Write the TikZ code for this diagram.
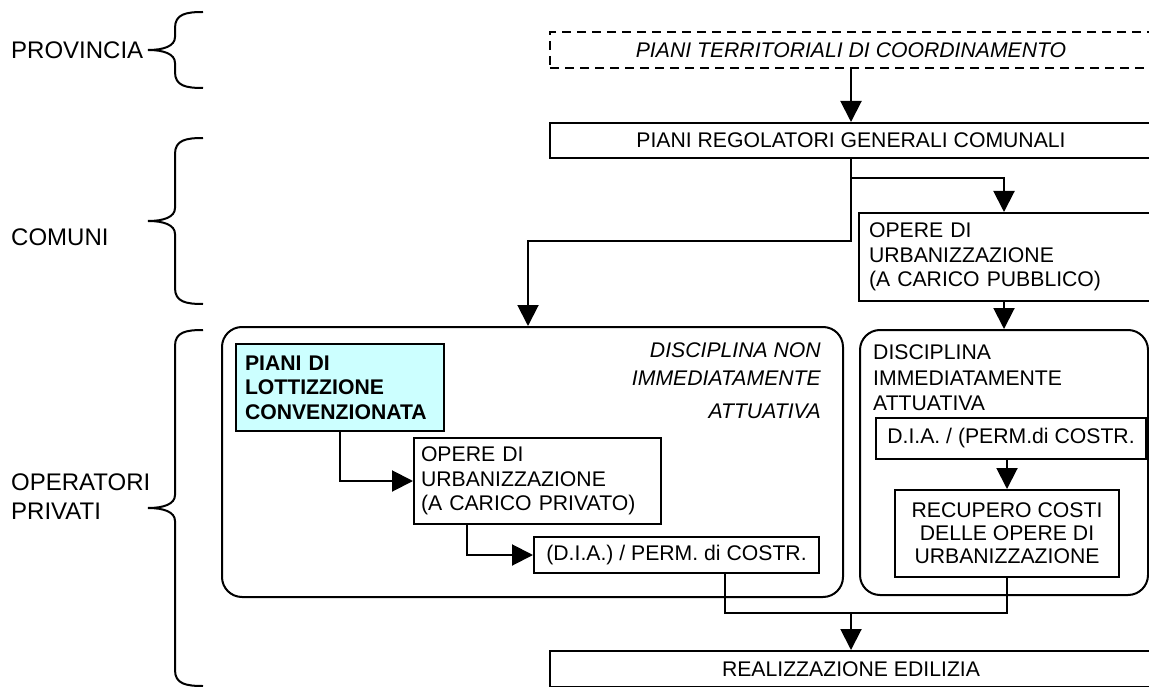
\documentclass[tikz,border=0pt]{standalone}
\usepackage{fontspec}
\setmainfont{Liberation Sans}
\usetikzlibrary{arrows.meta,calc}
\definecolor{lottfill}{HTML}{CCFFFF}
% curly brace on the left: top, tip and bottom heights
\newcommand\sidebrace[3]{%
  \draw[lw] (203,#1) .. controls (186,#1) and (175,#1+2) .. (175,#1+16)
    -- (175,#2-13) .. controls (175,#2-4) and (164,#2) .. (148,#2)
    .. controls (164,#2) and (175,#2+4) .. (175,#2+13)
    -- (175,#3-16) .. controls (175,#3-2) and (186,#3) .. (203,#3);}
\begin{document}
\begin{tikzpicture}[x=1pt,y=-1pt,
  lw/.style={line width=2pt},
  arr/.style={lw,-{Triangle[length=21pt,width=21pt]}},
  boxfont/.style={font=\fontsize{21.2}{24.5}\selectfont},
  box/.style={draw,lw,anchor=north west,inner sep=0pt,boxfont,align=center},
  lbox/.style={draw,lw,anchor=north west,inner ysep=0pt,boxfont,align=left},
  area/.style={draw,lw,rounded corners=20pt,anchor=north west,inner sep=0pt},
  txt/.style={inner sep=0pt,boxfont},
  side/.style={inner sep=0pt,anchor=west,align=left,font=\fontsize{24}{29}\selectfont}
]
\useasboundingbox (0,0) rectangle (1149,687);
\clip (0,0) rectangle (1149,687);

% the central axis of the main chain
\coordinate (split) at (851,241);
\coordinate (branch) at (851,178);
\coordinate (merge) at (851,613);

% level labels and braces
\node[side] (prov) at (11,50) {PROVINCIA};
\node[side] (comuni) at (11,237) {COMUNI};
\node[side] (oper) at (11,497) {OPERATORI\\PRIVATI};
\sidebrace{12}{50}{88}
\sidebrace{138}{221}{304}
\sidebrace{330}{508}{686}

% planning chain (boxes run past the right edge)
\node[box,dashed,dash pattern=on 9pt off 6pt,minimum width=615pt,minimum height=36pt] (ptc) at (549,31) {};
\node[txt,font=\itshape\fontsize{21.2}{24.5}\selectfont] (ptctxt) at (ptc.center -| split) {PIANI TERRITORIALI DI COORDINAMENTO};
\node[box,minimum width=615pt,minimum height=35pt] (prg) at (549,122) {};
\node[txt] (prgtxt) at (prg.center -| split) {PIANI REGOLATORI GENERALI COMUNALI};
\node[lbox,inner xsep=10pt,text width=276pt,minimum height=88pt] (opub) at (858,212)
  {OPERE DI\\URBANIZZAZIONE\\(A CARICO PUBBLICO)};

% the two disciplines
\node[area,minimum width=621pt,minimum height=270pt] (dnon) at (221,326) {};
\node[area,minimum width=288pt,minimum height=265pt] (dimm) at (859,329) {};
\node[txt,anchor=north east,align=right,font=\itshape\fontsize{21.2}{24.5}\selectfont] (dnontxt) at (821,342.5)
  {DISCIPLINA NON\\[3.5pt]IMMEDIATAMENTE\\[8pt]ATTUATIVA};
\node[txt,anchor=north west,align=left,font=\fontsize{21.2}{25.5}\selectfont] (dimmtxt) at (873,344.5)
  {DISCIPLINA\\IMMEDIATAMENTE\\ATTUATIVA};

% private path
\node[lbox,fill=lottfill,inner xsep=9pt,text width=190pt,minimum height=87pt,font=\bfseries\fontsize{21.2}{24.5}\selectfont] (lott) at (235,343)
  {PIANI DI\\LOTTIZZIONE\\CONVENZIONATA};
\node[lbox,inner xsep=7pt,text width=233pt,minimum height=86pt] (opriv) at (413,437)
  {OPERE DI\\URBANIZZAZIONE\\(A CARICO PRIVATO)};
\node[box,minimum width=285pt,minimum height=36pt] (dia) at (533,536)
  {(D.I.A.) / PERM. di COSTR.};

% immediate path
\node[box,minimum width=270pt,minimum height=41pt] (dia2) at (875,417)
  {D.I.A. / (PERM.di COSTR.};
\node[box,minimum width=224pt,minimum height=87pt,font=\fontsize{21.2}{23}\selectfont] (recup) at (894,489)
  {RECUPERO COSTI\\DELLE OPERE DI\\URBANIZZAZIONE};

\node[box,minimum width=615pt,minimum height=36pt] (real) at (549,650) {};
\node[txt] (realtxt) at (real.center -| split) {REALIZZAZIONE EDILIZIA};

% connectors
\draw[arr] (ptc.south -| split) -- (prg.north -| split);
\draw[arr] (prg.south -| split) -- (split) -| ([xshift=-4.5pt]dnon.north);
\draw[arr] (branch) -| ([xshift=-3pt]opub.north);
\draw[arr] ([xshift=-3pt]opub.south) -- ([xshift=-3pt]opub.south |- dimm.north);
\draw[arr] (lott.south) |- (opriv.west);
\draw[arr] ($(opriv.south west)+(54,0)$) |- (dia.west);
\draw[arr] (recup.north |- dia2.south) -- (recup.north);
\draw[lw] ($(dia.south west)+(192,0)$) |- (merge) -| (recup.south);
\draw[arr] (merge) -- (real.north -| split);
\end{tikzpicture}
\end{document}
